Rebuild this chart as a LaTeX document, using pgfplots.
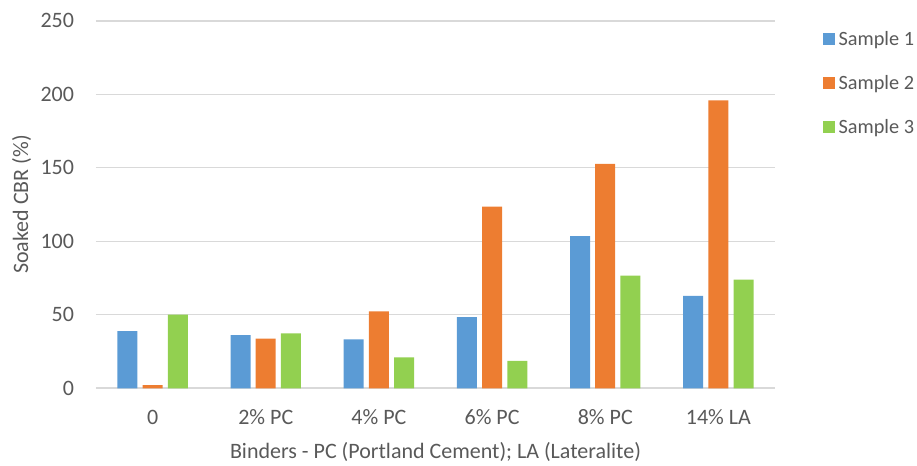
\documentclass[border=0pt]{standalone}
\usepackage{fontspec}
\setmainfont{Carlito}
\usepackage{pgfplots}
\pgfplotsset{compat=1.18}
\definecolor{s1}{HTML}{5B9BD5}
\definecolor{s2}{HTML}{ED7D31}
\definecolor{s3}{HTML}{92D050}
\definecolor{txt}{HTML}{595959}
\definecolor{grd}{HTML}{D9D9D9}
\newcommand{\chartfont}{\fontsize{16.5}{19.8}\selectfont}
\newcommand{\legfont}{\fontsize{15.2}{18}\selectfont}

\begin{document}
\begin{tikzpicture}
\useasboundingbox (-72pt,-58.3pt) rectangle (615.75pt,291.2pt);
\begin{axis}[
    at={(0,0)}, anchor=south west,
    scale only axis,
    width=509.25pt, height=275.5pt,
    ybar=3.9pt, bar width=15pt,
    xmin=-0.5, xmax=5.5,
    ymin=0, ymax=250,
    xtick={0,...,5},
    xticklabels={0, 2\% PC, 4\% PC, 6\% PC, 8\% PC, 14\% LA},
    ytick={0,50,...,250},
    ymajorgrids=true,
    grid style={grd, line width=0.9pt},
    extra y ticks={0}, extra y tick labels={},
    extra y tick style={grid style={grd, line width=1.6pt}},
    major tick length=0pt,
    axis line style={draw=none},
    clip=false,
    /pgf/number format/assume math mode=true,
    tick label style={font=\chartfont, text=txt},
    xticklabel style={anchor=base, yshift=-27.5pt},
    yticklabel style={anchor=east, inner sep=0pt, xshift=-16.3pt},
    label style={font=\chartfont, text=txt},
    xlabel={Binders - PC (Portland Cement); LA (Lateralite)},
    xlabel style={at={(axis description cs:0.5,-0.1906)}, anchor=base},
    ylabel={Soaked CBR (\%)},
    ylabel style={at={(axis description cs:-0.1,0.5)}, anchor=base},
    legend style={
        at={(axis description cs:1.0697,0.8307)}, anchor=west,
        draw=none, fill=none, inner sep=0pt,
        row sep=23.2pt, column sep=3pt,
        font=\legfont, text=txt,
        nodes={inner sep=0pt, text height=9.8pt, text depth=0pt},
        cells={anchor=west},
    },
    legend image code/.code={\fill[#1] (0pt,-4.5pt) rectangle (9pt,4.5pt);},
]

% Sample 1
\addplot[fill=s1, draw=none] coordinates {
    (0,38.9) (1,36.2) (2,33.3) (3,48.4) (4,103.6) (5,62.9)
};
% Sample 2
\addplot[fill=s2, draw=none] coordinates {
    (0,2.2) (1,33.7) (2,52.3) (3,123.6) (4,152.7) (5,195.9)
};
% Sample 3
\addplot[fill=s3, draw=none] coordinates {
    (0,50.2) (1,37.3) (2,21.0) (3,18.7) (4,76.7) (5,74.0)
};

\legend{Sample 1, Sample 2, Sample 3}
\end{axis}
\end{tikzpicture}
\end{document}
